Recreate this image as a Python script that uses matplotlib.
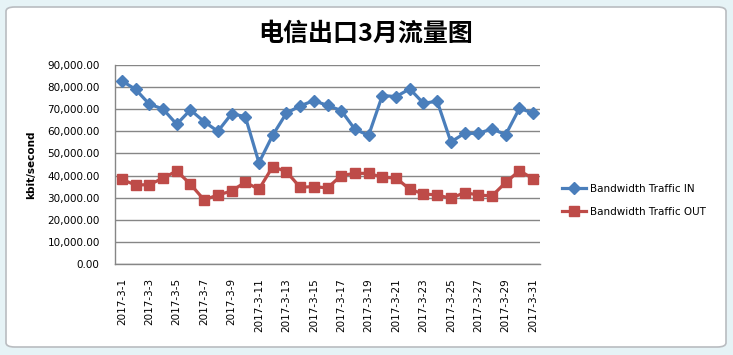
import matplotlib.pyplot as plt
from matplotlib.patches import FancyBboxPatch

plt.rcParams['font.family'] = ['DejaVu Sans', 'Noto Sans CJK SC']

# 3月每日出口流量 (kbit/second)
dates = ['2017-3-%d' % d for d in range(1, 32)]
traffic_in = [82800, 79000, 72300, 70100, 63200, 69700, 64400, 60000, 67900, 66700,
              45800, 58200, 68200, 71500, 73900, 71700, 69400, 60900, 58200, 76200,
              75700, 79200, 72700, 73600, 55200, 59100, 59100, 61100, 58500, 70400,
              68200]
traffic_out = [38300, 35700, 35900, 38800, 42100, 36100, 29000, 31200, 33000, 37000,
               33800, 44000, 41800, 34700, 35000, 34400, 40000, 41000, 41000, 39200,
               38900, 33800, 31700, 31200, 29700, 32300, 31200, 30800, 36900, 42200,
               38600]

W, H = 733, 355
fig = plt.figure(figsize=(W / 100, H / 100), dpi=100)
fig.patch.set_facecolor('#e6f3f6')

# chart frame
frame = FancyBboxPatch((6 / W, 8 / H), 720 / W, 340 / H,
                       boxstyle='round,pad=0,rounding_size=0.012',
                       transform=fig.transFigure, facecolor='white',
                       edgecolor='#b9bcc0', linewidth=1.2, zorder=-10)
fig.add_artist(frame)

ax = fig.add_axes([115 / W, 1 - 264 / H, 425 / W, 199 / H])
ax.set_facecolor('none')

x = range(len(dates))
ax.plot(x, traffic_in, color='#4a7ebb', lw=2.3, marker='D', ms=6,
        label='Bandwidth Traffic IN', zorder=3)
ax.plot(x, traffic_out, color='#be4b48', lw=2.3, marker='s', ms=7,
        label='Bandwidth Traffic OUT', zorder=3)

ax.set_xlim(-0.5, len(dates) - 0.5)
ax.set_ylim(0, 90000)
ax.set_yticks(range(0, 90001, 10000))
ax.set_yticklabels(['{:,.2f}'.format(v) for v in range(0, 90001, 10000)], fontsize=7.5)
ax.yaxis.grid(True, color='#868686', lw=1)
ax.set_axisbelow(True)
ax.tick_params(axis='y', length=0, pad=11)

ax.set_xticks(list(x)[::2])
ax.set_xticklabels(dates[::2], rotation=90, fontsize=7.5, va='top')
ax.tick_params(axis='x', length=0, pad=10)

for s in ['top', 'right']:
    ax.spines[s].set_visible(False)
for s in ['left', 'bottom']:
    ax.spines[s].set_color('#868686')
    ax.spines[s].set_linewidth(1)

ax.set_ylabel('kbit/second', fontsize=7.5, fontweight='bold', labelpad=8)

fig.text(366 / W, 1 - 34 / H, '电信出口3月流量图', ha='center', va='center',
         fontsize=18, fontweight='bold', family=['Noto Sans CJK SC', 'DejaVu Sans'])

ax.legend(loc='center left', bbox_to_anchor=(1.03, 0.32), frameon=False,
          fontsize=7.5, handlelength=2.3, handletextpad=0.4, labelspacing=1.3)

fig.savefig('out.png', dpi=100, facecolor=fig.get_facecolor())
